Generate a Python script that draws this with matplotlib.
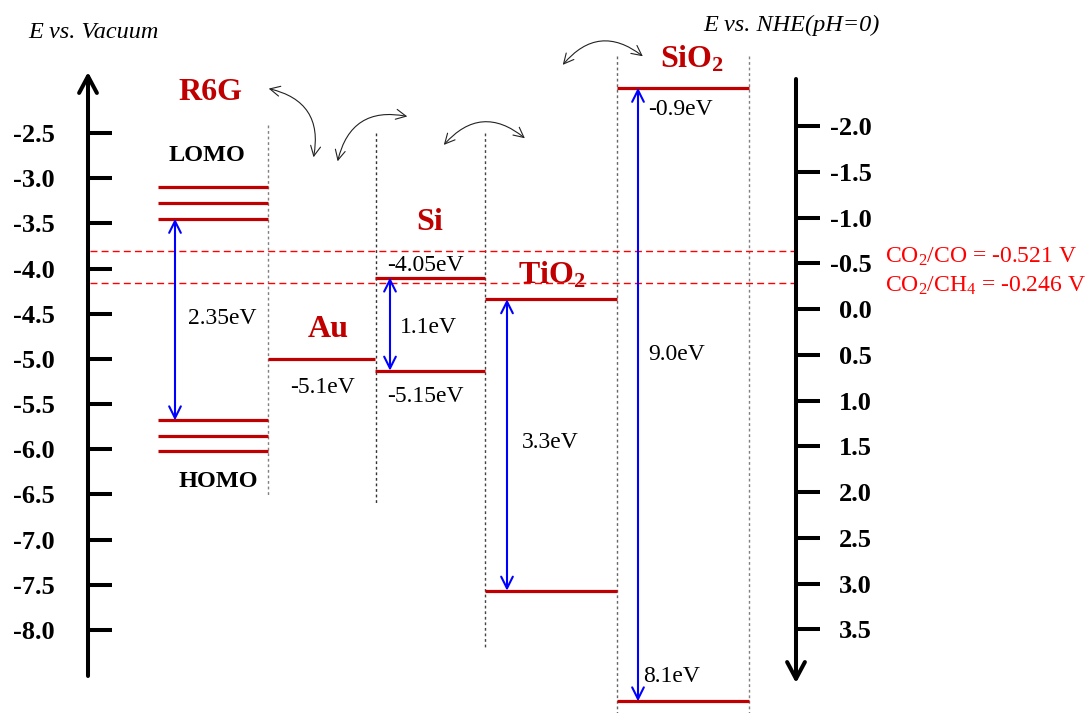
import matplotlib
matplotlib.use('Agg')
import matplotlib.pyplot as plt
import matplotlib.transforms as mtransforms
from matplotlib.patches import FancyArrowPatch

plt.rcParams['font.family'] = 'Liberation Serif'
plt.rcParams['mathtext.fontset'] = 'custom'
plt.rcParams['mathtext.rm'] = 'Liberation Serif'
plt.rcParams['mathtext.it'] = 'Liberation Serif:italic'
plt.rcParams['mathtext.bf'] = 'Liberation Serif:bold'
plt.rcParams['axes.unicode_minus'] = False

# energy scales
vac_ticks = [-2.5, -3.0, -3.5, -4.0, -4.5, -5.0, -5.5, -6.0, -6.5, -7.0, -7.5, -8.0]
nhe_ticks = [-2.0, -1.5, -1.0, -0.5, 0.0, 0.5, 1.0, 1.5, 2.0, 2.5, 3.0, 3.5]

# levels as drawn (eV vs vacuum)
r6g_lumo = [-3.10, -3.275, -3.45]
r6g_homo = [-5.68, -5.85, -6.02]
au_level = [-5.0]
si_levels = [-4.10, -5.13]
tio2_levels = [-4.34, -7.565]
sio2_levels = [-2.0, -8.79]

# CO2 reduction potentials (drawn position, eV vs vacuum)
co2_levels = [-3.81, -4.16]
co2_labels = [r'CO$_2$/CO = -0.521 V', r'CO$_2$/CH$_4$ = -0.246 V']

gap_labels = ['2.35eV', '1.1eV', '3.3eV', '9.0eV']
level_labels = ['-5.1eV', '-4.05eV', '-5.15eV', '-0.9eV', '8.1eV']

RED = '#c00000'
W, H = 1092, 713

fig = plt.figure(figsize=(W / 100, H / 100), dpi=100)
ax = fig.add_axes([0, 0, 1, 1])
ax.set_xlim(0, W)
ax.set_ylim(-8.919, -1.028)
px = mtransforms.Affine2D().scale(1 / W, -1 / H).translate(0, 1) + fig.transFigure

ax2 = ax.twinx()
ax2.set_ylim(4.415, -3.377)

# left axis (vacuum)
ax.spines['left'].set_position(('data', 88))
ax.set_yticks(vac_ticks)
ax.set_yticklabels([f'{v:.1f}' for v in vac_ticks], fontweight='bold', fontsize=19)
ax.tick_params(axis='y', direction='in', length=17, width=2.9, pad=23.8)
ax.tick_params(axis='x', bottom=False, labelbottom=False)

# right axis (NHE)
ax2.spines['right'].set_position(('data', 796))
ax2.set_yticks(nhe_ticks)
ax2.set_yticklabels([f'{v:.1f}' for v in nhe_ticks], fontweight='bold', fontsize=19, ha='right')
ax2.tick_params(axis='y', direction='out', length=17, width=2.9, pad=37.4)

for s in list(ax.spines.values()) + list(ax2.spines.values()):
    s.set_visible(False)

ax.annotate('', xy=(88, 72), xytext=(88, 676), xycoords=px, textcoords=px,
            arrowprops=dict(arrowstyle='->,head_length=0.6,head_width=0.32', lw=2.9,
                            color='black', shrinkA=0, shrinkB=0, mutation_scale=20))
ax.annotate('', xy=(796, 683), xytext=(796, 79), xycoords=px, textcoords=px,
            arrowprops=dict(arrowstyle='->,head_length=0.6,head_width=0.32', lw=2.9,
                            color='black', shrinkA=0, shrinkB=0, mutation_scale=20))

# dotted separators
for x, y0, y1, c in [(268, 125, 497, '#808080'), (376, 133, 505, '#333333'), (485, 133, 648, '#444444'),
                     (617, 56, 713, '#666666'), (749, 56, 713, '#808080')]:
    ax.plot([x, x], [y0, y1], transform=px, color=c, lw=1, ls=(0, (2, 2)))

# CO2 lines
for v in co2_levels:
    ax.plot([90, 797], [v, v], color='#ff0000', lw=1, ls=(0, (5, 3)))

# energy levels
ax.hlines(r6g_lumo + r6g_homo, 158, 268, colors=RED, lw=2.3)
ax.hlines(au_level, 268, 375, colors=RED, lw=2.3)
ax.hlines(si_levels, 375, 485, colors=RED, lw=2.3)
ax.hlines(tio2_levels, 485, 617, colors=RED, lw=2.3)
ax.hlines(sio2_levels, 617, 749, colors=RED, lw=2.3)

# band gap arrows
gaps = [(175, min(r6g_lumo), max(r6g_homo)),
        (390, si_levels[0], si_levels[1]),
        (507, tio2_levels[0], tio2_levels[1]),
        (638, sio2_levels[0], sio2_levels[1])]
for x, top, bot in gaps:
    ax.annotate('', xy=(x, bot), xytext=(x, top),
                arrowprops=dict(arrowstyle='<->,head_length=0.6,head_width=0.3', color='blue',
                                lw=1.5, shrinkA=0, shrinkB=0, mutation_scale=14))

for lab, (x, y) in zip(gap_labels, [(188, 324), (400, 333), (522, 448), (648, 360)]):
    ax.text(x, y, lab, transform=px, fontsize=17, va='baseline')
for lab, (x, y) in zip(level_labels, [(290, 393), (387, 271), (387, 402), (648, 115), (643, 682)]):
    ax.text(x, y, lab, transform=px, fontsize=17, va='baseline')

# material names
ax.text(210, 100, 'R6G', transform=px, fontsize=23, fontweight='bold', color=RED, ha='center', va='baseline')
ax.text(328.5, 337, 'Au', transform=px, fontsize=23, fontweight='bold', color=RED, ha='center', va='baseline')
ax.text(430, 230, 'Si', transform=px, fontsize=23, fontweight='bold', color=RED, ha='center', va='baseline')
ax.text(518, 283, r'TiO$_\mathbf{2}$', transform=px, fontsize=23, fontweight='bold', color=RED, va='baseline')
ax.text(660, 68, r'SiO$_\mathbf{2}$', transform=px, fontsize=23, fontweight='bold', color=RED, va='baseline')
ax.text(207, 161, 'LOMO', transform=px, fontsize=17.5, fontweight='bold', ha='center', va='baseline')
ax.text(218, 487, 'HOMO', transform=px, fontsize=17.5, fontweight='bold', ha='center', va='baseline')

ax.text(28, 38, 'E vs. Vacuum', transform=px, fontsize=17.5, style='italic', va='baseline')
ax.text(703, 31, 'E vs. NHE(pH=0)', transform=px, fontsize=17.5, style='italic', va='baseline')

for lab, y in zip(co2_labels, [263, 292]):
    ax.text(885, y, lab, transform=px, fontsize=17, color='#ff0000', va='baseline')

# charge transfer arrows
for a, b in [((266, 88), (313, 160)), ((337, 164), (410, 117)),
             ((442, 147), (527, 140)), ((561, 67), (645, 58))]:
    p = FancyArrowPatch(a, b, transform=px, connectionstyle='arc3,rad=-0.5',
                        arrowstyle='<->,head_length=0.6,head_width=0.3', mutation_scale=12,
                        lw=0.8, color='#222222', clip_on=False)
    ax.add_patch(p)

fig.savefig('out.png', dpi=100)
